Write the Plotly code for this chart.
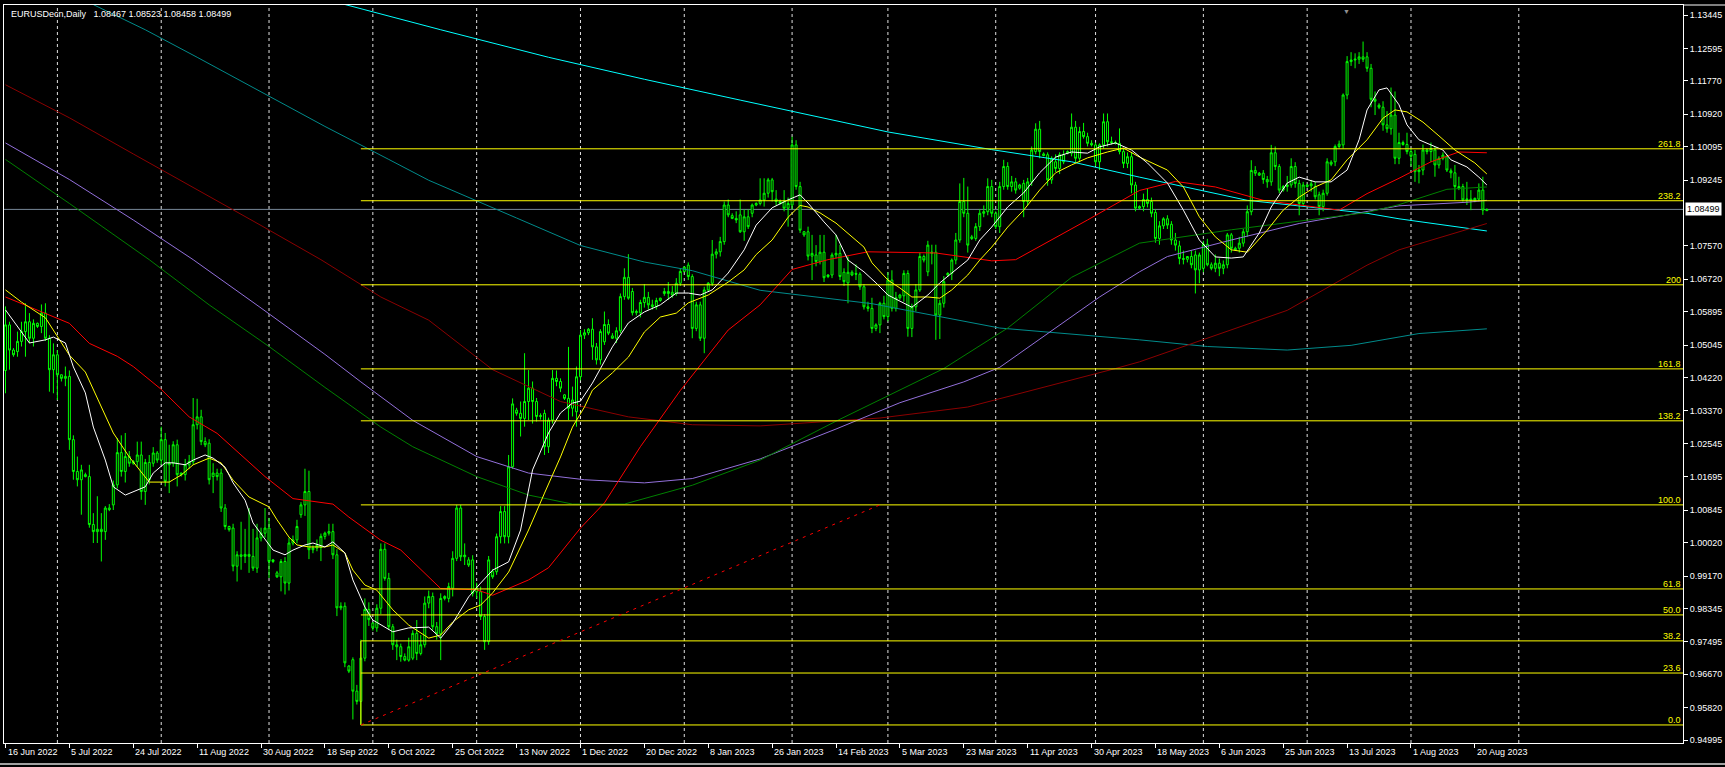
import plotly.graph_objects as go

# ---------------- candle data (daily bars, Sun-Fri, 16 Jun 2022 .. 23 Aug 2023) ----------------
opens = [
1.0440,1.0556,1.0492,1.0488,1.0514,1.0539,1.0564,1.0522,1.0560,1.0552,
1.0586,1.0522,1.0442,1.0480,1.0429,1.0420,1.0425,1.0264,1.0183,1.0162,
1.0175,1.0170,1.0048,1.0030,1.0036,1.0030,1.0090,1.0098,1.0149,1.0231,
1.0183,1.0221,1.0204,1.0208,1.0225,1.0132,1.0206,1.0204,1.0230,1.0212,
1.0264,1.0200,1.0204,1.0251,1.0175,1.0175,1.0200,1.0208,1.0302,1.0322,
1.0259,1.0255,1.0170,1.0179,1.0179,1.0090,1.0043,1.0039,0.9942,0.9971,
0.9967,0.9972,0.9967,0.9937,1.0014,1.0026,1.0039,0.9954,0.9925,0.9915,
0.9954,0.9899,1.0001,1.0009,1.0073,1.0098,1.0132,0.9984,0.9988,0.9990,
1.0018,1.0026,1.0030,0.9971,0.9836,0.9840,0.9688,0.9704,0.9624,0.9598,
0.9708,0.9832,0.9797,0.9785,0.9835,0.9985,0.9911,0.9788,0.9742,0.9737,
0.9712,0.9703,0.9708,0.9771,0.9720,0.9742,0.9848,0.9865,0.9788,0.9770,
0.9860,0.9860,0.9886,0.9962,1.0090,0.9966,0.9958,0.9958,0.9877,0.9877,
0.9814,0.9750,0.9928,0.9928,1.0017,1.0081,1.0017,1.0195,1.0339,1.0331,
1.0318,1.0361,1.0395,1.0361,1.0323,1.0331,1.0246,1.0314,1.0420,1.0412,
1.0378,1.0369,1.0344,1.0335,1.0424,1.0530,1.0536,1.0545,1.0500,1.0467,
1.0513,1.0557,1.0528,1.0522,1.0541,1.0628,1.0677,1.0641,1.0587,1.0587,
1.0613,1.0626,1.0607,1.0603,1.0618,1.0636,1.0641,1.0639,1.0636,1.0662,
1.0692,1.0708,1.0679,1.0547,1.0607,1.0522,1.0645,1.0662,1.0736,1.0742,
1.0768,1.0861,1.0834,1.0827,1.0836,1.0793,1.0831,1.0840,1.0861,1.0865,
1.0874,1.0891,1.0925,1.0876,1.0870,1.0870,1.0853,1.0861,1.1014,1.0908,
1.0793,1.0793,1.0731,1.0734,1.0717,1.0741,1.0679,1.0683,1.0734,1.0738,
1.0690,1.0663,1.0690,1.0687,1.0685,1.0653,1.0602,1.0598,1.0547,1.0556,
1.0611,1.0577,1.0670,1.0598,1.0625,1.0630,1.0687,1.0547,1.0602,1.0645,
1.0730,1.0691,1.0738,1.0741,1.0581,1.0611,1.0683,1.0687,1.0721,1.0772,
1.0870,1.0840,1.0780,1.0776,1.0806,1.0840,1.0844,1.0908,1.0840,1.0806,
1.0908,1.0959,1.0908,1.0920,1.0904,1.0916,1.0870,1.0920,1.0997,1.1054,
1.0991,1.0989,1.0925,1.0971,1.0954,1.0989,1.0993,1.0993,1.1059,1.0980,
1.1048,1.1035,1.1018,1.1014,1.0971,1.1014,1.1073,1.1022,1.1020,1.1018,
1.0997,1.0967,1.0984,1.0912,1.0853,1.0857,1.0875,1.0870,1.0842,1.0776,
1.0808,1.0826,1.0812,1.0772,1.0757,1.0725,1.0723,1.0730,1.0734,1.0696,
1.0700,1.0761,1.0709,1.0700,1.0713,1.0700,1.0709,1.0785,1.0751,1.0751,
1.0764,1.0793,1.0844,1.0949,1.0942,1.0942,1.0926,1.0920,1.0994,1.0959,
1.0899,1.0908,1.0912,1.0959,1.0916,1.0865,1.0912,1.0910,1.0908,1.0887,
1.0857,1.0891,1.0970,1.0971,1.1010,1.1014,1.1141,1.1226,1.1230,1.1232,
1.1238,1.1238,1.1209,1.1130,1.1115,1.1110,1.1065,1.1055,1.1090,1.0980,
1.1020,1.1015,1.0997,1.0990,1.0946,1.0950,1.1001,1.0997,1.1001,1.0963,
1.0980,1.0984,1.0948,1.0943,1.0908,1.0908,1.0874,1.0876,1.0872,1.0876,
1.0899,1.08467]
highs = [
1.0603,1.0564,1.0497,1.0539,1.0564,1.0611,1.0586,1.0570,1.0562,1.0608,
1.0611,1.0530,1.0509,1.0492,1.0430,1.0450,1.0440,1.0275,1.0221,1.0200,
1.0180,1.0200,1.0077,1.0120,1.0077,1.0095,1.0100,1.0160,1.0268,1.0275,
1.0281,1.0235,1.0212,1.0259,1.0259,1.0215,1.0225,1.0245,1.0235,1.0297,
1.0281,1.0251,1.0260,1.0264,1.0180,1.0215,1.0225,1.0370,1.0368,1.0340,
1.0270,1.0265,1.0204,1.0190,1.0190,1.0100,1.0045,1.0050,0.9980,1.0055,
1.0037,1.0090,1.0037,1.0050,1.0040,1.0090,1.0065,0.9960,0.9930,0.9960,
0.9965,1.0015,1.0020,1.0060,1.0105,1.0190,1.0185,0.9995,1.0010,1.0025,
1.0030,1.0050,1.0050,0.9985,0.9850,0.9850,0.9690,0.9710,0.9640,0.9755,
0.9860,0.9850,0.9800,0.9845,1.0000,1.0000,0.9925,0.9795,0.9755,0.9745,
0.9720,0.9760,0.9779,0.9805,0.9767,0.9865,0.9880,0.9875,0.9800,0.9873,
0.9868,0.9900,0.9980,1.0098,1.0098,1.0000,0.9965,0.9970,0.9900,0.9890,
0.9820,0.9968,0.9935,1.0025,1.0095,1.0095,1.0225,1.0369,1.0345,1.0361,
1.0484,1.0441,1.0412,1.0370,1.0331,1.0340,1.0320,1.0441,1.0440,1.0420,
1.0380,1.0500,1.0399,1.0450,1.0543,1.0545,1.0548,1.0573,1.0510,1.0545,
1.0590,1.0570,1.0535,1.0550,1.0636,1.0700,1.0736,1.0650,1.0595,1.0620,
1.0660,1.0640,1.0620,1.0625,1.0625,1.0650,1.0665,1.0655,1.0675,1.0700,
1.0705,1.0715,1.0685,1.0615,1.0615,1.0653,1.0665,1.0772,1.0750,1.0780,
1.0870,1.0875,1.0840,1.0845,1.0875,1.0850,1.0850,1.0865,1.0868,1.0929,
1.0929,1.0930,1.0930,1.0899,1.0875,1.0899,1.0880,1.1035,1.1026,1.0920,
1.0795,1.0806,1.0785,1.0759,1.0785,1.0785,1.0685,1.0740,1.0785,1.0760,
1.0700,1.0730,1.0695,1.0710,1.0690,1.0660,1.0615,1.0625,1.0560,1.0615,
1.0630,1.0690,1.0695,1.0640,1.0635,1.0695,1.0695,1.0610,1.0660,1.0740,
1.0735,1.0770,1.0760,1.0760,1.0620,1.0680,1.0690,1.0725,1.0790,1.0916,
1.0930,1.0908,1.0785,1.0815,1.0850,1.0860,1.0929,1.0925,1.0845,1.0920,
1.0976,1.0970,1.0935,1.0930,1.0915,1.0925,1.0930,1.1010,1.1069,1.1075,
1.0995,1.0995,1.0985,1.0990,1.0995,1.1000,1.1000,1.1094,1.1075,1.1060,
1.1070,1.1045,1.1026,1.1020,1.1018,1.1094,1.1094,1.1035,1.1025,1.1056,
1.1005,1.0995,1.0995,1.0920,1.0860,1.0890,1.0904,1.0880,1.0850,1.0820,
1.0830,1.0835,1.0820,1.0790,1.0770,1.0745,1.0730,1.0745,1.0745,1.0740,
1.0770,1.0775,1.0715,1.0735,1.0725,1.0720,1.0790,1.0790,1.0755,1.0780,
1.0800,1.0860,1.0975,1.0960,1.0945,1.0950,1.0935,1.1014,1.1010,1.0965,
1.0912,1.0935,1.0980,1.0970,1.0925,1.0920,1.0915,1.0925,1.0920,1.0895,
1.0900,1.0980,1.0975,1.1015,1.1025,1.1145,1.1240,1.1250,1.1247,1.1250,
1.1277,1.1250,1.1220,1.1150,1.1120,1.1125,1.1100,1.1160,1.1150,1.1045,
1.1025,1.1045,1.1005,1.1001,1.0963,1.1015,1.1005,1.1020,1.1010,1.0985,
1.0995,1.0990,1.0954,1.0963,1.0933,1.0915,1.0920,1.0899,1.0880,1.0916,
1.0933,1.08523]
lows = [
1.0382,1.0442,1.0475,1.0475,1.0501,1.0475,1.0509,1.0501,1.0548,1.0535,
1.0515,1.0386,1.0382,1.0365,1.0412,1.0400,1.0238,1.0162,1.0145,1.0073,
1.0168,1.0040,1.0001,1.0001,0.9954,1.0009,1.0082,1.0085,1.0140,1.0170,
1.0155,1.0195,1.0200,1.0195,1.0111,1.0098,1.0150,1.0195,1.0205,1.0200,
1.0145,1.0128,1.0195,1.0145,1.0170,1.0160,1.0190,1.0200,1.0290,1.0250,
1.0245,1.0150,1.0128,1.0160,1.0080,1.0035,1.0030,0.9929,0.9903,0.9933,
0.9950,0.9925,0.9930,0.9925,1.0005,1.0015,0.9912,0.9950,0.9912,0.9878,
0.9870,0.9880,0.9995,1.0000,1.0065,1.0070,0.9960,0.9975,0.9980,0.9955,
1.0010,1.0020,0.9960,0.9815,0.9830,0.9685,0.9670,0.9552,0.9590,0.9538,
0.9700,0.9790,0.9778,0.9775,0.9820,0.9905,0.9780,0.9729,0.9703,0.9699,
0.9700,0.9699,0.9703,0.9703,0.9715,0.9735,0.9835,0.9780,0.9755,0.9703,
0.9855,0.9850,0.9865,0.9955,0.9955,0.9945,0.9940,0.9865,0.9860,0.9805,
0.9729,0.9742,0.9910,0.9920,1.0000,1.0000,1.0000,1.0190,1.0325,1.0272,
1.0297,1.0314,1.0305,1.0310,1.0315,1.0225,1.0230,1.0305,1.0400,1.0385,
1.0365,1.0314,1.0323,1.0297,1.0415,1.0520,1.0530,1.0467,1.0455,1.0455,
1.0505,1.0530,1.0520,1.0510,1.0535,1.0620,1.0620,1.0580,1.0580,1.0575,
1.0600,1.0595,1.0595,1.0595,1.0615,1.0630,1.0620,1.0625,1.0630,1.0655,
1.0690,1.0670,1.0522,1.0540,1.0515,1.0484,1.0640,1.0655,1.0725,1.0730,
1.0760,1.0830,1.0825,1.0815,1.0790,1.0770,1.0800,1.0830,1.0858,1.0860,
1.0857,1.0880,1.0870,1.0860,1.0862,1.0845,1.0806,1.0850,1.0900,1.0790,
1.0780,1.0720,1.0670,1.0705,1.0710,1.0665,1.0675,1.0675,1.0725,1.0670,
1.0655,1.0611,1.0680,1.0670,1.0645,1.0595,1.0590,1.0535,1.0540,1.0535,
1.0570,1.0565,1.0590,1.0590,1.0620,1.0615,1.0526,1.0525,1.0590,1.0640,
1.0715,1.0680,1.0710,1.0518,1.0520,1.0600,1.0678,1.0670,1.0710,1.0765,
1.0830,1.0740,1.0772,1.0770,1.0795,1.0830,1.0835,1.0830,1.0800,1.0790,
1.0900,1.0900,1.0895,1.0890,1.0900,1.0830,1.0860,1.0910,1.0990,1.0980,
1.0985,1.0910,1.0915,1.0945,1.0940,1.0965,1.0990,1.0985,1.0970,1.0970,
1.1030,1.1010,1.1010,1.0960,1.0950,1.1005,1.1010,1.1015,1.1015,1.0990,
1.0955,1.0955,1.0891,1.0845,1.0850,1.0845,1.0855,1.0830,1.0765,1.0760,
1.0800,1.0800,1.0760,1.0745,1.0710,1.0710,1.0715,1.0700,1.0636,1.0662,
1.0690,1.0705,1.0695,1.0690,1.0680,1.0685,1.0700,1.0740,1.0745,1.0740,
1.0755,1.0780,1.0835,1.0935,1.0935,1.0915,1.0905,1.0910,1.0950,1.0891,
1.0895,1.0895,1.0905,1.0905,1.0835,1.0860,1.0905,1.0895,1.0875,1.0835,
1.0845,1.0885,1.0960,1.0960,1.1005,1.1005,1.1130,1.1215,1.1209,1.1220,
1.1225,1.1200,1.1110,1.1090,1.1105,1.1050,1.1045,1.1040,1.0965,1.0965,
1.1012,1.0990,1.0960,1.0920,1.0916,1.0937,1.0990,1.0970,1.0933,1.0954,
1.0975,1.0945,1.0929,1.0874,1.0899,1.0870,1.0861,1.0848,1.0868,1.0870,
1.0836,1.08458]
closes = [
1.0556,1.0492,1.0480,1.0514,1.0539,1.0564,1.0522,1.0560,1.0552,1.0586,
1.0522,1.0442,1.0480,1.0429,1.0420,1.0425,1.0264,1.0183,1.0162,1.0187,
1.0170,1.0048,1.0030,1.0036,1.0030,1.0090,1.0086,1.0149,1.0231,1.0183,
1.0221,1.0204,1.0208,1.0225,1.0132,1.0206,1.0162,1.0230,1.0212,1.0264,
1.0158,1.0204,1.0251,1.0175,1.0179,1.0200,1.0208,1.0302,1.0322,1.0259,
1.0251,1.0162,1.0179,1.0170,1.0090,1.0043,1.0035,0.9942,0.9971,0.9967,
0.9972,0.9967,0.9937,1.0014,1.0026,1.0039,0.9954,0.9958,0.9915,0.9954,
0.9899,1.0001,1.0009,1.0043,1.0098,1.0132,0.9984,0.9988,0.9995,1.0018,
1.0026,1.0030,0.9971,0.9836,0.9840,0.9696,0.9675,0.9624,0.9598,0.9708,
0.9832,0.9806,0.9785,0.9835,0.9985,0.9911,0.9788,0.9742,0.9737,0.9712,
0.9703,0.9737,0.9771,0.9720,0.9742,0.9848,0.9865,0.9788,0.9770,0.9860,
0.9865,0.9890,0.9962,1.0090,0.9966,0.9970,0.9945,0.9873,0.9886,0.9814,
0.9750,0.9958,0.9915,1.0017,1.0081,1.0017,1.0195,1.0355,1.0331,1.0318,
1.0361,1.0395,1.0361,1.0323,1.0325,1.0246,1.0314,1.0420,1.0412,1.0395,
1.0369,1.0344,1.0365,1.0424,1.0530,1.0536,1.0545,1.0500,1.0467,1.0539,
1.0557,1.0535,1.0522,1.0541,1.0628,1.0677,1.0624,1.0587,1.0590,1.0613,
1.0626,1.0607,1.0603,1.0618,1.0624,1.0641,1.0636,1.0632,1.0662,1.0692,
1.0703,1.0679,1.0547,1.0607,1.0522,1.0645,1.0662,1.0736,1.0742,1.0768,
1.0861,1.0836,1.0827,1.0823,1.0793,1.0831,1.0806,1.0861,1.0865,1.0874,
1.0891,1.0925,1.0895,1.0870,1.0865,1.0853,1.0865,1.1014,1.0908,1.0797,
1.0785,1.0731,1.0738,1.0717,1.0741,1.0676,1.0683,1.0734,1.0738,1.0679,
1.0666,1.0690,1.0683,1.0685,1.0653,1.0602,1.0598,1.0547,1.0556,1.0611,
1.0577,1.0670,1.0598,1.0625,1.0632,1.0687,1.0547,1.0602,1.0645,1.0730,
1.0721,1.0759,1.0741,1.0581,1.0611,1.0666,1.0687,1.0721,1.0772,1.0870,
1.0840,1.0759,1.0776,1.0806,1.0840,1.0844,1.0908,1.0840,1.0806,1.0908,
1.0959,1.0908,1.0920,1.0899,1.0912,1.0870,1.0920,1.1001,1.1054,1.0997,
1.0987,1.0925,1.0980,1.0954,1.0989,1.0971,1.0997,1.1059,1.0980,1.1048,
1.1035,1.1018,1.1014,1.0971,1.1014,1.1073,1.1022,1.1020,1.1018,1.0997,
1.0967,1.0984,1.0912,1.0853,1.0857,1.0875,1.0865,1.0840,1.0776,1.0808,
1.0826,1.0810,1.0772,1.0759,1.0725,1.0723,1.0730,1.0709,1.0696,1.0734,
1.0761,1.0709,1.0700,1.0713,1.0700,1.0709,1.0785,1.0751,1.0747,1.0764,
1.0793,1.0844,1.0949,1.0942,1.0937,1.0926,1.0920,1.0994,1.0959,1.0899,
1.0908,1.0912,1.0959,1.0916,1.0865,1.0912,1.0908,1.0915,1.0882,1.0857,
1.0891,1.0971,1.0965,1.1010,1.1016,1.1141,1.1226,1.1230,1.1232,1.1238,
1.1232,1.1209,1.1130,1.1125,1.1110,1.1065,1.1055,1.1090,1.0980,1.1020,
1.1015,1.0997,1.0985,1.0946,1.0950,1.1001,1.0997,1.1005,1.0963,1.0980,
1.0988,1.0950,1.0943,1.0908,1.0903,1.0874,1.0876,1.0872,1.0878,1.0899,
1.0848,1.08499]

# ---------------- moving averages (bar index, value) ----------------
white_x = [0,3,6,10,12,15,17,20,22,25,27,30,32,35,37,40,42,45,47,50,52,55,57,60,62,65,67,70,72,75,
           77,80,82,85,87,90,92,97,101,106,109,112,116,119,122,126,129,132,136,139,142,144,147,152,156,160,164,168,171,174,
           177,181,185,188,192,196,199,201,205,208,211,215,218,221,225,227,231,234,237,241,244,247,251,255,259,263,267,271,274,278,
           282,286,291,295,299,303,307,310,314,317,321,324,328,332,336,339,341,344,346,349,351,354,360,362,366,369,371]
white_y = [1.0594,1.0551,1.0510,1.0518,1.0525,1.0510,1.0449,1.0383,1.0296,1.0212,1.0144,1.0123,1.0131,1.0144,1.0179,1.0205,1.0205,1.0200,1.0212,1.0225,
           1.0217,1.0194,1.0154,1.0110,1.0052,1.0009,0.9983,0.9971,0.9983,0.9996,1.0001,0.9991,1.0004,0.9976,0.9907,0.9838,0.9805,0.9775,0.9785,0.9787,
           0.9759,0.9797,0.9864,0.9899,0.9932,0.9953,1.0034,1.0187,1.0281,1.0332,1.0357,1.0362,1.0408,1.0500,1.0561,1.0589,1.0607,1.0637,1.0637,1.0632,
           1.0645,1.0688,1.0747,1.0810,1.0854,1.0874,1.0887,1.0866,1.0818,1.0785,1.0721,1.0691,1.0663,1.0632,1.0612,1.0601,1.0632,1.0663,1.0688,1.0721,
           1.0772,1.0805,1.0856,1.0892,1.0943,1.0983,1.0996,1.0993,1.1009,1.1019,1.1001,1.0968,1.0917,1.0848,1.0772,1.0729,1.0726,1.0729,1.0790,1.0856,
           1.0917,1.0932,1.0920,1.0920,1.0950,1.1027,1.1103,1.1154,1.1159,1.1116,1.1065,1.1027,1.1001,1.0976,1.0958,1.0932,1.0912]
yellow_x = [0,4,10,13,16,20,24,27,31,34,36,41,44,47,51,54,57,61,66,68,71,73,76,80,82,85,87,90,93,97,
            101,106,109,112,116,119,122,126,131,135,139,142,145,147,152,156,160,164,168,171,176,181,185,188,192,196,199,201,204,208,
            212,215,217,221,224,227,231,234,237,241,244,247,251,255,259,263,267,271,276,280,284,291,295,299,303,307,311,316,320,324,
            328,332,336,341,345,348,351,355,359,363,368,371]
yellow_y = [1.0645,1.0614,1.0574,1.0525,1.0479,1.0436,1.0347,1.0281,1.0220,1.0182,1.0156,1.0156,1.0174,1.0200,1.0217,1.0205,1.0161,1.0118,1.0093,1.0060,
            1.0016,0.9996,0.9991,0.9991,0.9996,0.9976,0.9932,0.9894,0.9881,0.9831,0.9792,0.9759,0.9767,0.9800,0.9831,0.9843,0.9874,0.9927,1.0034,1.0128,
            1.0220,1.0296,1.0347,1.0390,1.0434,1.0474,1.0538,1.0576,1.0586,1.0612,1.0632,1.0665,1.0696,1.0735,1.0772,1.0830,1.0860,1.0856,1.0841,1.0815,
            1.0780,1.0754,1.0714,1.0670,1.0650,1.0627,1.0627,1.0624,1.0645,1.0683,1.0721,1.0754,1.0805,1.0848,1.0899,1.0943,1.0963,1.0981,1.0996,1.1006,
            1.0983,1.0950,1.0907,1.0831,1.0780,1.0747,1.0741,1.0797,1.0848,1.0881,1.0907,1.0925,1.0976,1.1027,1.1082,1.1103,1.1098,1.1072,1.1037,1.1001,
            1.0968,1.0940]
red_x = [0,10,16,21,28,32,39,46,53,65,72,82,86,94,99,109,118,122,131,136,144,150,159,169,181,189,197,206,216,233,
         247,253,259,271,284,293,303,315,328,334,341,349,357,364,371]
red_y = [1.0627,1.0585,1.0560,1.0509,1.0476,1.0450,1.0392,1.0322,1.0280,1.0170,1.0114,1.0100,1.0067,1.0008,0.9983,0.9885,0.9882,0.9868,0.9907,0.9938,
         1.0039,1.0103,1.0246,1.0389,1.0543,1.0607,1.0697,1.0722,1.0742,1.0739,1.0719,1.0722,1.0755,1.0823,1.0898,1.0921,1.0907,1.0873,1.0856,1.0848,
         1.0890,1.0929,1.0971,1.0996,1.0994]
maroon_x = [0,16,32,48,64,79,94,106,122,139,156,172,189,219,241,278,284,321,341,349,371]
maroon_y = [1.1167,1.1083,1.0991,1.0901,1.0809,1.0722,1.0627,1.0568,1.0442,1.0361,1.0322,1.0302,1.0299,1.0319,1.0347,1.0445,1.0462,1.0593,1.0708,1.0747,1.0814]
teal_x = [22,35,48,64,80,96,106,128,144,160,172,189,217,249,284,301,321,337,354,371]
teal_y = [1.1371,1.1307,1.1237,1.1150,1.1061,1.0977,1.0924,1.0828,1.0758,1.0716,1.0694,1.0644,1.0610,1.0548,1.0518,1.0501,1.0492,1.0504,1.0534,1.0546]
cyan_x = [84,109,136,160,184,221,247,267,284,311,341,349,371]
cyan_y = [1.1374,1.1307,1.1237,1.1181,1.1128,1.1047,1.1002,1.0971,1.0932,1.0873,1.0840,1.0826,1.0795]
purple_x = [0,16,32,47,64,80,89,102,118,131,145,160,172,189,208,224,240,249,274,284,291,307,324,341,349,366,371]
purple_y = [1.1019,1.0926,1.0823,1.0722,1.0599,1.0481,1.0411,1.0313,1.0221,1.0179,1.0162,1.0154,1.0165,1.0215,1.0291,1.0358,1.0411,1.0448,1.0627,1.0691,
            1.0730,1.0772,1.0814,1.0845,1.0859,1.0868,1.0873]
green_x = [0,16,36,51,66,80,94,102,118,131,142,155,172,189,208,235,251,267,284,307,324,341,349,361,371]
green_y = [1.0977,1.0865,1.0722,1.0607,1.0501,1.0397,1.0296,1.0246,1.0170,1.0123,1.0100,1.0100,1.0148,1.0212,1.0311,1.0445,1.0548,1.0677,1.0764,1.0798,
           1.0820,1.0842,1.0862,1.0901,1.0907]

# ---------------- Fibonacci object ----------------
fib_anchor_bars = [89, 219]
fib_anchor_prices = [0.9538, 1.0098]
fib_levels = [0.0, 23.6, 38.2, 50.0, 61.8, 100.0, 138.2, 161.8, 200.0, 238.2, 261.8]
fib_labels = ["0.0", "23.6", "38.2", "50.0", "61.8", "100.0", "138.2", "161.8", "200", "238.2", "261.8"]

# ---------------- axes ----------------
date_labels = ["16 Jun 2022", "5 Jul 2022", "24 Jul 2022", "11 Aug 2022", "30 Aug 2022", "18 Sep 2022",
               "6 Oct 2022", "25 Oct 2022", "13 Nov 2022", "1 Dec 2022", "20 Dec 2022", "8 Jan 2023",
               "26 Jan 2023", "14 Feb 2023", "5 Mar 2023", "23 Mar 2023", "11 Apr 2023", "30 Apr 2023",
               "18 May 2023", "6 Jun 2023", "25 Jun 2023", "13 Jul 2023", "1 Aug 2023", "20 Aug 2023"]
bars_per_label = 16
month_start_bars = [13, 39, 66, 92, 118, 144, 170, 197, 221, 248, 273, 300, 326, 352, 379]
price_ticks = [1.13445, 1.12595, 1.11770, 1.10920, 1.10095, 1.09245, 1.07570, 1.06720, 1.05895,
               1.05045, 1.04220, 1.03370, 1.02545, 1.01695, 1.00845, 1.00020, 0.99170, 0.98345, 0.97495,
               0.96670, 0.95820, 0.94995]
title_text = "EURUSDecn,Daily\u00a0\u00a0 1.08467 1.08523 1.08458 1.08499"

FONT = "Liberation Sans, Arial, sans-serif"
bars = list(range(len(closes)))
x_min, x_max = -0.375, 420.125
y_min, y_max = 0.94921, 1.13700

fig = go.Figure()
fig.add_trace(go.Candlestick(
    x=bars, open=opens, high=highs, low=lows, close=closes,
    increasing=dict(line=dict(color="#00FF00", width=1), fillcolor="#000000"),
    decreasing=dict(line=dict(color="#00FF00", width=1), fillcolor="#000000"),
    whiskerwidth=0, hoverinfo="skip", showlegend=False))

for xs, ys, col in [(teal_x, teal_y, "#008B8B"), (cyan_x, cyan_y, "#00FFFF"),
                    (maroon_x, maroon_y, "#8B0000"), (purple_x, purple_y, "#9370DB"),
                    (green_x, green_y, "#008000"), (red_x, red_y, "#FF0000"),
                    (yellow_x, yellow_y, "#FFFF00"), (white_x, white_y, "#FFFFFF")]:
    fig.add_trace(go.Scatter(x=xs, y=ys, mode="lines", line=dict(color=col, width=1),
                             hoverinfo="skip", showlegend=False))

shapes = []
for b in month_start_bars:
    shapes.append(dict(type="line", xref="x", yref="paper", x0=b, x1=b, y0=0, y1=1,
                       line=dict(color="#E0E0E0", width=1, dash="3px,3px"), layer="below"))
shapes.append(dict(type="line", xref="paper", yref="y", x0=0, x1=1, y0=closes[-1], y1=closes[-1],
                   line=dict(color="#778899", width=1), layer="below"))
lo, hi = fib_anchor_prices
fib_prices = [lo + (hi - lo) * lv / 100.0 for lv in fib_levels]
for p in fib_prices:
    shapes.append(dict(type="line", xref="x", yref="y", x0=fib_anchor_bars[0], x1=x_max, y0=p, y1=p,
                       line=dict(color="#FFFF00", width=1), layer="above"))
shapes.append(dict(type="line", xref="x", yref="y", x0=fib_anchor_bars[0], x1=fib_anchor_bars[0],
                   y0=fib_prices[0], y1=fib_prices[2], line=dict(color="#FFFF00", width=1), layer="above"))
shapes.append(dict(type="line", xref="x", yref="y", x0=fib_anchor_bars[0], x1=fib_anchor_bars[1],
                   y0=fib_anchor_prices[0], y1=fib_anchor_prices[1],
                   line=dict(color="#FF0000", width=1, dash="3px,5px"), layer="above"))
shapes.append(dict(type="line", xref="paper", yref="paper", x0=1, x1=1.03, y0=1, y1=1,
                   line=dict(color="#FFFFFF", width=1)))
shapes.append(dict(type="line", xref="paper", yref="paper", x0=-0.01, x1=1.03, y0=-0.0285, y1=-0.0285,
                   line=dict(color="#A0A0A0", width=2)))

annotations = []
annotations.append(dict(text=title_text, xref="paper", yref="paper", x=0, y=1, xanchor="left", yanchor="top",
                        xshift=5, yshift=-2, showarrow=False, font=dict(family=FONT, size=9, color="#FFFFFF")))
for p, lab in zip(fib_prices, fib_labels):
    annotations.append(dict(text=lab, xref="paper", yref="y", x=1, y=p, xanchor="right", yanchor="bottom",
                            xshift=-1, yshift=-1, showarrow=False, borderpad=0,
                            font=dict(family=FONT, size=9, color="#FFFF00")))
for k, lab in enumerate(date_labels):
    annotations.append(dict(text=lab, xref="x", yref="paper", x=k * bars_per_label, y=0,
                            xanchor="left", yanchor="top", yshift=-2, showarrow=False,
                            font=dict(family=FONT, size=9, color="#FFFFFF")))
annotations.append(dict(text=f"{closes[-1]:.5f}", xref="paper", yref="y", x=1, y=closes[-1],
                        xanchor="left", yanchor="middle", xshift=2, showarrow=False,
                        bgcolor="#FFFFFF", borderpad=1, font=dict(family=FONT, size=9, color="#000000")))
annotations.append(dict(text="\u25bc", xref="paper", yref="paper", x=0.7997, y=1, xanchor="center",
                        yanchor="top", showarrow=False, font=dict(size=7, color="#909090")))

fig.update_layout(
    width=1725, height=767, autosize=False,
    margin=dict(l=3, r=40, t=5, b=24),
    paper_bgcolor="#000000", plot_bgcolor="#000000",
    showlegend=False, shapes=shapes, annotations=annotations,
    xaxis=dict(range=[x_min, x_max], showgrid=False, zeroline=False, showline=True,
               linecolor="#FFFFFF", linewidth=1, mirror=True, ticks="outside", ticklen=4,
               tickcolor="#FFFFFF", tickvals=[k * bars_per_label for k in range(len(date_labels))],
               showticklabels=False, rangeslider=dict(visible=False), fixedrange=True),
    yaxis=dict(range=[y_min, y_max], side="right", showgrid=False, zeroline=False, showline=True,
               linecolor="#FFFFFF", linewidth=1, mirror=True, ticks="outside", ticklen=4,
               tickcolor="#FFFFFF", tickvals=price_ticks, tickformat=".5f",
               tickfont=dict(family=FONT, size=9, color="#FFFFFF"), fixedrange=True),
)

fig.write_html("out.html", config={"displayModeBar": False},
               post_script="document.body.style.margin='0';document.body.style.background='#000';")
